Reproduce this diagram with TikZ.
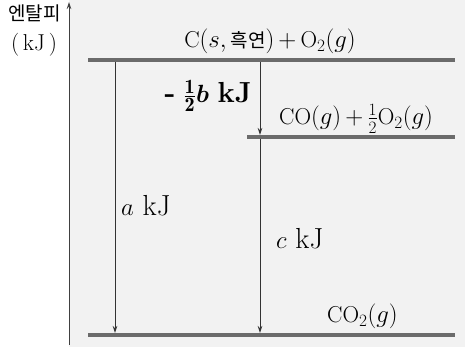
\documentclass[tikz,border=0pt]{standalone}
\usepackage{amsmath,bm}
\usepackage{fontspec}
\newfontfamily\kor{Noto Sans CJK KR}
\usetikzlibrary{arrows.meta,positioning}

\begin{document}
\begin{tikzpicture}[x=1pt,y=1pt,>={Stealth[length=7pt,width=4.5pt]},
  level/.style={line width=4pt,black!58},
  step arrow/.style={->,line width=0.9pt,black!80},
  chem/.style={font=\fontsize{23}{27}\selectfont,inner sep=0pt},
  heat/.style={font=\fontsize{29}{34}\selectfont,inner sep=0pt}]
\useasboundingbox (0,0) rectangle (465,347);
\fill[black!5] (69,0) rectangle (465,347);
% axis
\coordinate (origin) at (69,2);
\coordinate (top) at (69,345);
\draw[->,line width=0.9pt,black!75] (origin) -- (top);
\node[font=\kor\fontsize{19}{22}\selectfont,anchor=base east,inner sep=0pt] (enth) at (61,326) {엔탈피};
\node[chem,anchor=base] (unit) at (34,296) {(\,kJ\,)};
% levels
\coordinate (graphiteL) at (88,287);
\coordinate (graphiteR) at (455,287);
\coordinate (coL) at (247,210);
\coordinate (coR) at (455,210);
\coordinate (co2L) at (88,12);
\coordinate (co2R) at (455,12);
\draw[level] (graphiteL) -- (graphiteR);
\draw[level] (coL) -- (coR);
\draw[level] (co2L) -- (co2R);
\node[chem,anchor=base] (lblC) at (270,299) {C$(s,$\,{\kor\fontsize{19}{22}\selectfont 흑연}$)\,{+}\,\mathrm{O}_2(g)$};
\node[chem,anchor=base west] (lblCO) at (279,222) {CO$(g)\,{+}\,\frac{1}{2}\mathrm{O}_2(g)$};
\node[chem,anchor=base west] (lblCO2) at (327,24) {CO$_2(g)$};
% arrows
\coordinate (aTop) at (115,285);
\coordinate (aBot) at (115,14);
\coordinate (bTop) at (260,285);
\coordinate (bBot) at (260,212);
\coordinate (cTop) at (260,208);
\coordinate (cBot) at (260,14);
\draw[step arrow] (aTop) -- (aBot);
\draw[step arrow] (bTop) -- (bBot);
\draw[step arrow] (cTop) -- (cBot);
\node[heat,anchor=base west] (qa) at (121,131) {$a$ kJ};
\node[heat,anchor=base west] (qc) at (276,98) {$c$ kJ};
\node[heat,anchor=base east] (qb) at (252,244) {\textbf{-}\;$\frac{\mathbf{1}}{\mathbf{2}}\bm{b}$ \textbf{kJ}};
\end{tikzpicture}
\end{document}
